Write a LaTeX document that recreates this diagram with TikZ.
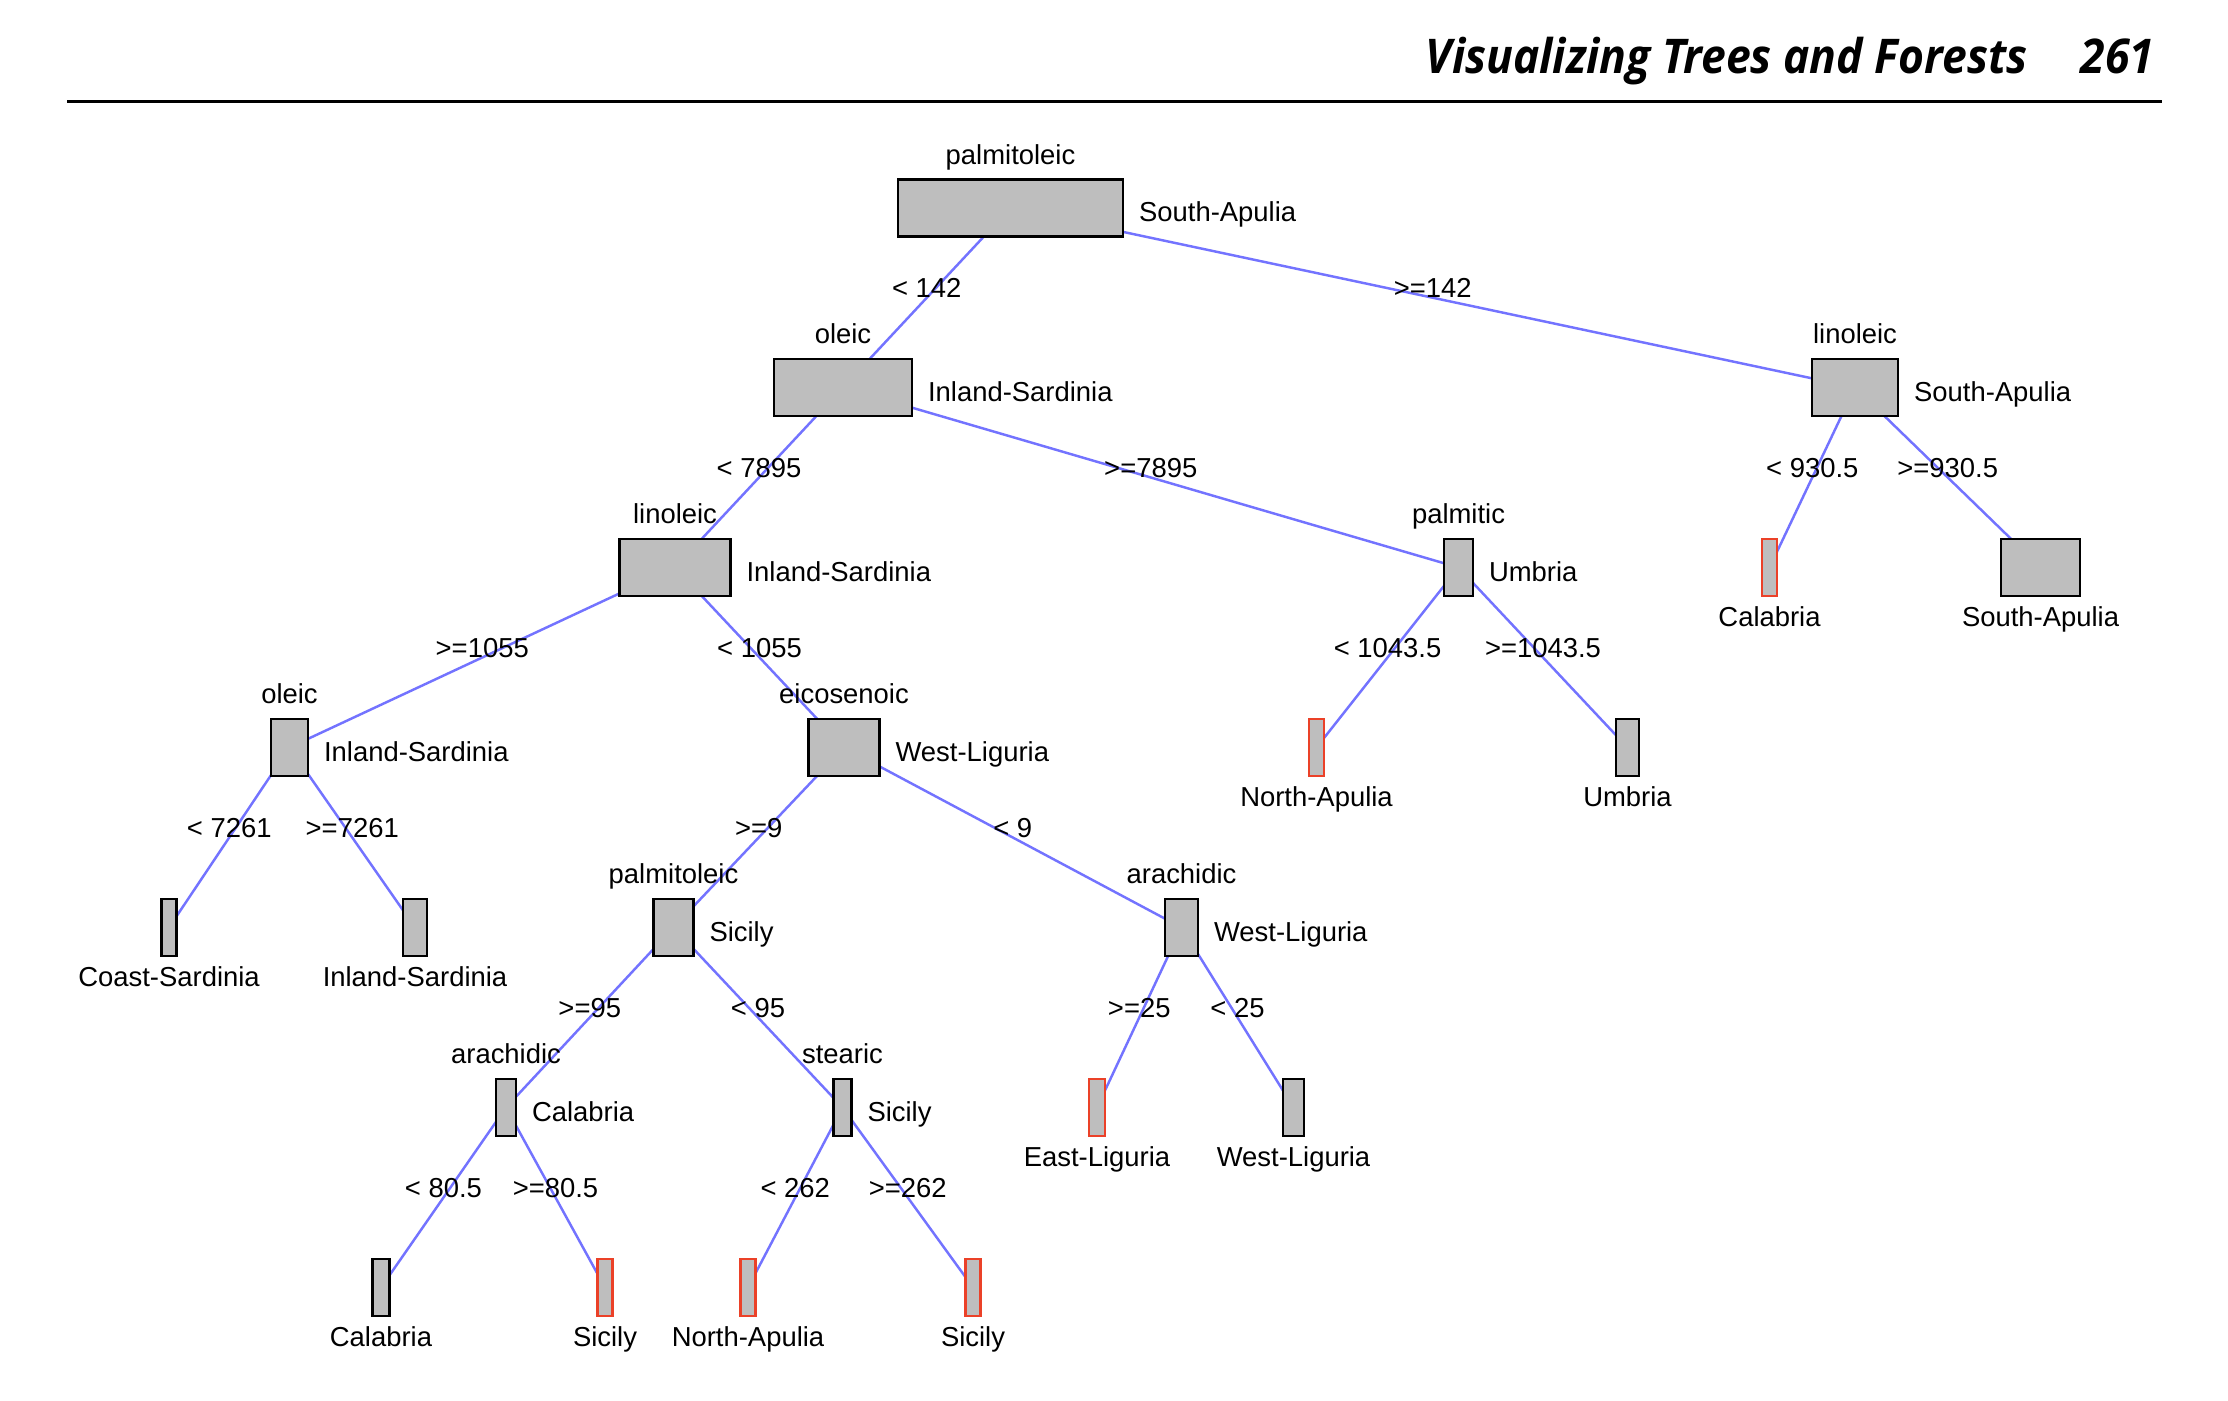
\documentclass[tikz,border=0pt]{standalone}
\usepackage{fontspec}
\setmainfont{Liberation Sans}
\newfontfamily\headfont[FakeStretch=0.93]{Open Sans}
\usepackage{tikz}
\usetikzlibrary{calc, backgrounds}

\definecolor{boxgrey}{RGB}{190,190,190}
\definecolor{edgeblue}{RGB}{115,115,255}
\definecolor{leafred}{RGB}{235,65,40}

\begin{document}
\begin{tikzpicture}[x = 0.01cm, y = 0.01cm, font = \fontsize{7.8}{9}\selectfont,
		split/.style = {draw, fill = boxgrey, line width = 0.75pt, minimum height = 0.57cm, inner sep = 0pt},
		leaf/.style = {split},
		bad leaf/.style = {split, draw = leafred},
		edge/.style = {edgeblue, line width = 0.7pt},
		var label/.style = {anchor = base, inner sep = 0pt},
		class label/.style = {anchor = base west, inner sep = 0pt},
		leaf label/.style = {anchor = base, inner sep = 0pt},
		cut label/.style = {anchor = base, inner sep = 0pt, text = black}]
		
		\useasboundingbox (0,0) rectangle (2228,1400);
		
		\def\yA{1192};
		\def\yB{1012.5};
		\def\yC{832.5};
		\def\yD{652.5};
		\def\yE{472.5};
		\def\yF{292.5};
		\def\yG{112.5};
		
		\node [anchor = base east, inner sep = 0pt, font = \headfont\bfseries\itshape\fontsize{13.6}{16}\selectfont] (running title) at (2028, 1326.7) {Visualizing Trees and Forests};
		\node [anchor = base east, inner sep = 0pt, font = \headfont\bfseries\itshape\fontsize{13.6}{16}\selectfont] (page number) at (2155, 1326.7) {261};
		
		\coordinate (rule left) at (67, 1298.3);
		\coordinate (rule right) at (2162, 1298.3);
		\draw [line width = 0.95pt] (rule left) -- (rule right);
		
		\node [split, minimum width = 2.25cm] (palmitoleic a) at (1010.5, \yA) {};
		\node [split, minimum width = 1.38cm] (oleic a) at (843, \yB) {};
		\node [split, minimum width = 0.86cm] (linoleic b) at (1855, \yB) {};
		\node [split, minimum width = 1.11cm] (linoleic a) at (675, \yC) {};
		\node [split, minimum width = 0.29cm] (palmitic) at (1458.5, \yC) {};
		\node [bad leaf, minimum width = 0.15cm] (calabria b) at (1769.5, \yC) {};
		\node [leaf, minimum width = 0.79cm] (south apulia) at (2040.5, \yC) {};
		\node [split, minimum width = 0.37cm] (oleic b) at (289.5, \yD) {};
		\node [split, minimum width = 0.71cm] (eicosenoic) at (844, \yD) {};
		\node [bad leaf, minimum width = 0.15cm] (north apulia b) at (1316.5, \yD) {};
		\node [leaf, minimum width = 0.23cm] (umbria) at (1627.5, \yD) {};
		\node [leaf, minimum width = 0.15cm] (coast sardinia) at (169, \yE) {};
		\node [leaf, minimum width = 0.24cm] (inland sardinia) at (415, \yE) {};
		\node [split, minimum width = 0.40cm] (palmitoleic b) at (673.5, \yE) {};
		\node [split, minimum width = 0.33cm] (arachidic b) at (1181.5, \yE) {};
		\node [split, minimum width = 0.20cm] (arachidic a) at (506, \yF) {};
		\node [split, minimum width = 0.18cm] (stearic) at (842.5, \yF) {};
		\node [bad leaf, minimum width = 0.16cm] (east liguria) at (1097, \yF) {};
		\node [leaf, minimum width = 0.21cm] (west liguria) at (1293.5, \yF) {};
		\node [leaf, minimum width = 0.17cm] (calabria a) at (381, \yG) {};
		\node [bad leaf, minimum width = 0.15cm] (sicily a) at (605, \yG) {};
		\node [bad leaf, minimum width = 0.15cm] (north apulia a) at (748, \yG) {};
		\node [bad leaf, minimum width = 0.15cm] (sicily b) at (973, \yG) {};
		
		% split variables and majority classes
		\node [var label] (palmitoleic a var) at ($ (palmitoleic a.north) + (0,14) $) {palmitoleic};
		\node [class label] (palmitoleic a class) at ($ (palmitoleic a.east) + (14,-14) $) {South-Apulia};
		\node [var label] (oleic a var) at ($ (oleic a.north) + (0,14) $) {oleic};
		\node [class label] (oleic a class) at ($ (oleic a.east) + (14,-14) $) {Inland-Sardinia};
		\node [var label] (linoleic b var) at ($ (linoleic b.north) + (0,14) $) {linoleic};
		\node [class label] (linoleic b class) at ($ (linoleic b.east) + (14,-14) $) {South-Apulia};
		\node [var label] (linoleic a var) at ($ (linoleic a.north) + (0,14) $) {linoleic};
		\node [class label] (linoleic a class) at ($ (linoleic a.east) + (14,-14) $) {Inland-Sardinia};
		\node [var label] (palmitic var) at ($ (palmitic.north) + (0,14) $) {palmitic};
		\node [class label] (palmitic class) at ($ (palmitic.east) + (14,-14) $) {Umbria};
		\node [var label] (oleic b var) at ($ (oleic b.north) + (0,14) $) {oleic};
		\node [class label] (oleic b class) at ($ (oleic b.east) + (14,-14) $) {Inland-Sardinia};
		\node [var label] (eicosenoic var) at ($ (eicosenoic.north) + (0,14) $) {eicosenoic};
		\node [class label] (eicosenoic class) at ($ (eicosenoic.east) + (14,-14) $) {West-Liguria};
		\node [var label] (palmitoleic b var) at ($ (palmitoleic b.north) + (0,14) $) {palmitoleic};
		\node [class label] (palmitoleic b class) at ($ (palmitoleic b.east) + (14,-14) $) {Sicily};
		\node [var label] (arachidic b var) at ($ (arachidic b.north) + (0,14) $) {arachidic};
		\node [class label] (arachidic b class) at ($ (arachidic b.east) + (14,-14) $) {West-Liguria};
		\node [var label] (arachidic a var) at ($ (arachidic a.north) + (0,14) $) {arachidic};
		\node [class label] (arachidic a class) at ($ (arachidic a.east) + (14,-14) $) {Calabria};
		\node [var label] (stearic var) at ($ (stearic.north) + (0,14) $) {stearic};
		\node [class label] (stearic class) at ($ (stearic.east) + (14,-14) $) {Sicily};
		
		% leaves
		\node [leaf label] (calabria b text) at ($ (calabria b.south) + (0,-29) $) {Calabria};
		\node [leaf label] (south apulia text) at ($ (south apulia.south) + (0,-29) $) {South-Apulia};
		\node [leaf label] (north apulia b text) at ($ (north apulia b.south) + (0,-29) $) {North-Apulia};
		\node [leaf label] (umbria text) at ($ (umbria.south) + (0,-29) $) {Umbria};
		\node [leaf label] (coast sardinia text) at ($ (coast sardinia.south) + (0,-29) $) {Coast-Sardinia};
		\node [leaf label] (inland sardinia text) at ($ (inland sardinia.south) + (0,-29) $) {Inland-Sardinia};
		\node [leaf label] (east liguria text) at ($ (east liguria.south) + (0,-29) $) {East-Liguria};
		\node [leaf label] (west liguria text) at ($ (west liguria.south) + (0,-29) $) {West-Liguria};
		\node [leaf label] (calabria a text) at ($ (calabria a.south) + (0,-29) $) {Calabria};
		\node [leaf label] (sicily a text) at ($ (sicily a.south) + (0,-29) $) {Sicily};
		\node [leaf label] (north apulia a text) at ($ (north apulia a.south) + (0,-29) $) {North-Apulia};
		\node [leaf label] (sicily b text) at ($ (sicily b.south) + (0,-29) $) {Sicily};
		
		\begin{pgfonlayer}{background}
			\draw [edge] (palmitoleic a.center) -- (oleic a.center) node [midway, cut label] (cut a) {< 142};
			\draw [edge] (palmitoleic a.center) -- (linoleic b.center) node [midway, cut label] (cut b) {>=142};
			\draw [edge] (oleic a.center) -- (linoleic a.center) node [midway, cut label] (cut c) {< 7895};
			\draw [edge] (oleic a.center) -- (palmitic.center) node [midway, cut label] (cut d) {>=7895};
			\draw [edge] (linoleic b.center) -- (calabria b.center) node [midway, cut label] (cut e) {< 930.5};
			\draw [edge] (linoleic b.center) -- (south apulia.center) node [midway, cut label] (cut f) {>=930.5};
			\draw [edge] (linoleic a.center) -- (oleic b.center) node [midway, cut label] (cut g) {>=1055};
			\draw [edge] (linoleic a.center) -- (eicosenoic.center) node [midway, cut label] (cut h) {< 1055};
			\draw [edge] (palmitic.center) -- (north apulia b.center) node [midway, cut label] (cut i) {< 1043.5};
			\draw [edge] (palmitic.center) -- (umbria.center) node [midway, cut label] (cut j) {>=1043.5};
			\draw [edge] (oleic b.center) -- (coast sardinia.center) node [midway, cut label] (cut k) {< 7261};
			\draw [edge] (oleic b.center) -- (inland sardinia.center) node [midway, cut label] (cut l) {>=7261};
			\draw [edge] (eicosenoic.center) -- (palmitoleic b.center) node [midway, cut label] (cut m) {>=9};
			\draw [edge] (eicosenoic.center) -- (arachidic b.center) node [midway, cut label] (cut n) {< 9};
			\draw [edge] (palmitoleic b.center) -- (arachidic a.center) node [midway, cut label] (cut o) {>=95};
			\draw [edge] (palmitoleic b.center) -- (stearic.center) node [midway, cut label] (cut p) {< 95};
			\draw [edge] (arachidic b.center) -- (east liguria.center) node [midway, cut label] (cut q) {>=25};
			\draw [edge] (arachidic b.center) -- (west liguria.center) node [midway, cut label] (cut r) {< 25};
			\draw [edge] (arachidic a.center) -- (calabria a.center) node [midway, cut label] (cut s) {< 80.5};
			\draw [edge] (arachidic a.center) -- (sicily a.center) node [midway, cut label] (cut t) {>=80.5};
			\draw [edge] (stearic.center) -- (north apulia a.center) node [midway, cut label] (cut u) {< 262};
			\draw [edge] (stearic.center) -- (sicily b.center) node [midway, cut label] (cut v) {>=262};
		\end{pgfonlayer}
	\end{tikzpicture}
\end{document}
